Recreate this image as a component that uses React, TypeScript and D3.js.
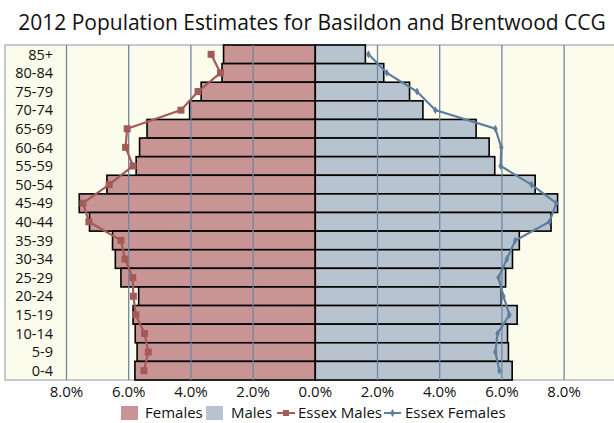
import { useRef, useEffect } from 'react'
import * as d3 from 'd3'

const ageGroups: string[] = ['85+', '80-84', '75-79', '70-74', '65-69', '60-64', '55-59', '50-54', '45-49', '40-44', '35-39', '30-34', '25-29', '20-24', '15-19', '10-14', '5-9', '0-4']
// % of population (top = 85+)
const females: number[] = [2.95, 3.0, 3.67, 4.04, 5.41, 5.65, 5.76, 6.70, 7.59, 7.26, 6.52, 6.43, 6.25, 5.68, 5.86, 5.79, 5.73, 5.80]
const males: number[] = [1.61, 2.20, 3.03, 3.46, 5.17, 5.59, 5.77, 7.07, 7.79, 7.58, 6.56, 6.34, 6.12, 5.98, 6.49, 6.18, 6.21, 6.33]
const essexMales: number[] = [3.35, 3.05, 3.77, 4.32, 6.05, 6.10, 5.86, 6.63, 7.47, 7.28, 6.25, 6.12, 5.87, 5.85, 5.77, 5.49, 5.37, 5.51]
const essexFemales: number[] = [1.71, 2.30, 3.27, 3.86, 5.79, 5.98, 5.96, 6.95, 7.75, 7.53, 6.43, 6.16, 5.89, 6.05, 6.24, 5.86, 5.79, 5.92]
const xTicks: number[] = [-8, -6, -4, -2, 0, 2, 4, 6, 8]

const FONT = '"Open Sans", "Noto Sans", sans-serif'
const PINK = '#c99494'
const BLUE = '#b7c4cf'
const PINK_LINE = '#a45b58'
const BLUE_LINE = '#5e7d9f'
const GRID = '#6f87a2'

export default function App() {
  const svgRef = useRef(null)
  const width = 614
  const height = 423
  const plot = { left: 5, top: 45, bottom: 380 }

  useEffect(() => {
    const svg = d3.select(svgRef.current)
    svg.selectAll('*').remove()

    const x = d3.scaleLinear().domain([-10, 10]).range([4.3, 626.3])
    const y = d3.scaleBand().domain(ageGroups).range([plot.top, plot.bottom]).padding(0)

    // title
    svg.append('text')
      .attr('x', 312).attr('y', 30)
      .attr('text-anchor', 'middle')
      .attr('font-family', FONT).attr('font-size', 21).attr('fill', '#111')
      .text('2012 Population Estimates for Basildon and Brentwood CCG')

    // plot background
    svg.append('rect')
      .attr('x', plot.left).attr('y', plot.top)
      .attr('width', width - plot.left + 5).attr('height', plot.bottom - plot.top)
      .attr('fill', '#fcfcec').attr('stroke', '#8c96a0').attr('stroke-width', 1)

    // bars
    const bars = svg.append('g')
    bars.selectAll('rect.f')
      .data(females)
      .enter()
      .append('rect')
      .attr('class', 'f')
      .attr('x', d => x(-d))
      .attr('y', (d, i) => y(ageGroups[i])!)
      .attr('width', d => x(0) - x(-d))
      .attr('height', y.bandwidth())
      .attr('fill', PINK).attr('stroke', '#000').attr('stroke-width', 1.6)
    bars.selectAll('rect.m')
      .data(males)
      .enter()
      .append('rect')
      .attr('class', 'm')
      .attr('x', x(0))
      .attr('y', (d, i) => y(ageGroups[i])!)
      .attr('width', d => x(d) - x(0))
      .attr('height', y.bandwidth())
      .attr('fill', BLUE).attr('stroke', '#000').attr('stroke-width', 1.6)

    // grid lines over the bars
    svg.append('g').selectAll('line')
      .data(xTicks.filter(t => t !== 0))
      .enter()
      .append('line')
      .attr('x1', d => x(d)).attr('x2', d => x(d))
      .attr('y1', plot.top).attr('y2', plot.bottom)
      .attr('stroke', GRID).attr('stroke-width', 1.3)

    // tick labels
    svg.append('g').selectAll('text')
      .data(xTicks)
      .enter()
      .append('text')
      .attr('x', d => x(d)).attr('y', 397)
      .attr('text-anchor', 'middle')
      .attr('font-family', FONT).attr('font-size', 15).attr('fill', '#111')
      .text(d => Math.abs(d).toFixed(1) + '%')

    // category labels
    svg.append('g').selectAll('text')
      .data(ageGroups)
      .enter()
      .append('text')
      .attr('x', 53)
      .attr('y', d => y(d)! + y.bandwidth() / 2)
      .attr('dy', '0.36em')
      .attr('text-anchor', 'end')
      .attr('font-family', FONT).attr('font-size', 14.5).attr('fill', '#111')
      .text(d => d)

    // Essex lines
    const line = d3.line<number>()
      .x(d => x(d))
      .y((d, i) => y(ageGroups[i])! + y.bandwidth() / 2)

    svg.append('path')
      .attr('d', line(essexMales.map(v => -v)))
      .attr('fill', 'none').attr('stroke', PINK_LINE).attr('stroke-width', 2.2)
    svg.append('g').selectAll('rect')
      .data(essexMales)
      .enter()
      .append('rect')
      .attr('x', d => x(-d) - 3.5)
      .attr('y', (d, i) => y(ageGroups[i])! + y.bandwidth() / 2 - 3.5)
      .attr('width', 7).attr('height', 7)
      .attr('fill', PINK_LINE)

    svg.append('path')
      .attr('d', line(essexFemales))
      .attr('fill', 'none').attr('stroke', BLUE_LINE).attr('stroke-width', 2.2)
    svg.append('g').selectAll('path')
      .data(essexFemales)
      .enter()
      .append('path')
      .attr('d', d3.symbol().type(d3.symbolDiamond).size(18))
      .attr('transform', (d, i) => `translate(${x(d)},${y(ageGroups[i])! + y.bandwidth() / 2})`)
      .attr('fill', BLUE_LINE)

    // legend
    const lg = svg.append('g').attr('font-family', FONT).attr('font-size', 15).attr('fill', '#111')
    lg.append('rect').attr('x', 121).attr('y', 406).attr('width', 17).attr('height', 14).attr('fill', PINK)
    lg.append('text').attr('x', 145).attr('y', 418).text('Females')
    lg.append('rect').attr('x', 206).attr('y', 406).attr('width', 17).attr('height', 14).attr('fill', BLUE)
    lg.append('text').attr('x', 231).attr('y', 418).text('Males')
    lg.append('line').attr('x1', 277).attr('x2', 295).attr('y1', 413).attr('y2', 413)
      .attr('stroke', PINK_LINE).attr('stroke-width', 2)
    lg.append('rect').attr('x', 283).attr('y', 410).attr('width', 6).attr('height', 6).attr('fill', PINK_LINE)
    lg.append('text').attr('x', 298).attr('y', 418).text('Essex Males')
    lg.append('line').attr('x1', 384).attr('x2', 401).attr('y1', 413).attr('y2', 413)
      .attr('stroke', BLUE_LINE).attr('stroke-width', 2)
    lg.append('path').attr('d', d3.symbol().type(d3.symbolDiamond).size(18))
      .attr('transform', 'translate(392.5,413)').attr('fill', BLUE_LINE)
    lg.append('text').attr('x', 405).attr('y', 418).text('Essex Females')
  }, [])

  return (
    <svg ref={svgRef} width={width} height={height}
      style={{ position: 'absolute', left: 0, top: 0, background: '#fff' }} />
  )
}
